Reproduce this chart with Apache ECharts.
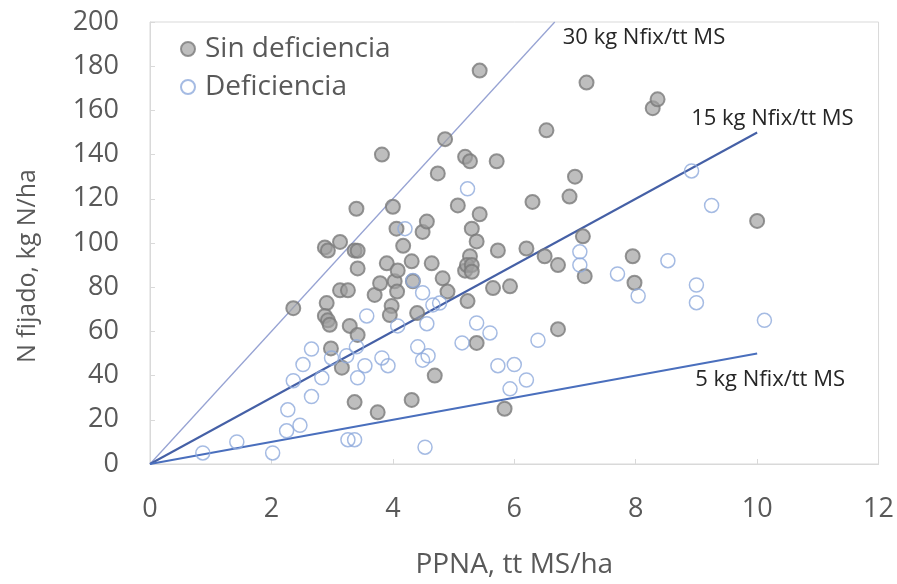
<!DOCTYPE html>
<html>
<head>
<meta charset="utf-8">
<script src="https://cdn.jsdelivr.net/npm/echarts@6/dist/echarts.min.js"></script>
<style>html,body{margin:0;padding:0;background:#fff}#c{width:897px;height:584px}</style>
</head>
<body>
<div id="c"></div>
<script>
// Sin deficiencia: [PPNA tt MS/ha, N fijado kg N/ha]
const sinDeficiencia = [
  [2.36,70.5],[2.88,98],[2.93,96.6],[3.13,100.5],[3.37,96.6],[3.42,96.5],[3.42,88.5],[3.40,115.5],
  [3.82,140],[4.0,116.4],[4.06,106.5],[4.17,98.7],[3.13,78.6],[3.26,78.6],[2.91,72.8],[2.88,67],
  [2.93,65],[2.96,63],[2.98,52.3],[3.16,43.6],[3.29,62.5],[3.42,58.4],[3.37,28],[3.75,23.4],
  [3.70,76.5],[3.79,81.8],[3.9,90.8],[3.98,71.5],[3.95,67.4],[4.03,82.7],[4.07,78],[4.08,87.6],
  [4.31,91.7],[4.33,82.7],[4.40,68.3],[4.31,29],[4.49,105],[4.56,109.7],[4.64,90.8],[4.74,131.5],
  [4.86,147],[4.82,84],[4.9,78],[4.69,40],[5.07,117],[5.19,139],[5.27,137],[5.3,106.5],
  [5.27,94],[5.19,87.5],[5.22,90],[5.3,90],[5.3,87],[5.38,100.7],[5.43,113],[5.38,54.8],
  [5.43,178],[5.23,73.7],[5.71,137],[5.73,96.6],[5.65,79.6],[5.93,80.4],[5.84,25],[6.2,97.5],
  [6.3,118.6],[6.53,151],[6.5,94],[6.72,90],[6.72,61],[6.91,121],[7.0,130],[7.13,103],
  [7.16,85],[7.19,172.6],[7.95,94],[7.98,82],[8.28,161],[8.36,165],[10.0,110]
];
// Deficiencia
const deficiencia = [
  [0.87,5],[1.43,10],[2.02,5],[2.25,15],[2.47,17.5],[2.27,24.5],[2.66,30.5],[2.36,37.7],
  [2.52,45],[2.66,52],[2.83,39],[2.99,48],[3.24,49],[3.4,53],[3.42,39],[3.54,44.5],
  [3.26,11],[3.37,11],[3.57,67],[3.82,48],[3.92,44.5],[4.08,62.5],[4.41,53],[4.49,47],
  [4.58,49],[4.53,7.6],[4.56,63.5],[4.49,77.5],[4.66,72],[4.77,72.8],[4.2,106.5],[4.33,83],
  [5.23,124.5],[5.14,54.8],[5.38,63.8],[5.6,59.3],[5.73,44.5],[6.0,45],[6.2,38],[5.93,34],
  [6.39,56],[7.08,96],[7.08,90],[7.7,86],[8.04,76],[8.53,92],[8.92,132.6],[9.25,117],
  [9.0,81],[9.0,73],[10.12,65]
];
// Reference lines (kg Nfix per tt MS)
const refRates = [30, 15, 5];
const refEndX = [200/30, 10, 10];
const refLabels = ['30 kg Nfix/tt MS', '15 kg Nfix/tt MS', '5 kg Nfix/tt MS'];
const xTicks = {min: 0, max: 12, interval: 2};
const yTicks = {min: 0, max: 200, interval: 20};
const seriesNames = ['Sin deficiencia', 'Deficiencia'];

const FONT = "'Open Sans', 'Noto Sans', sans-serif";
const refColors = ['#97a3d3', '#4560a6', '#4a6fbd'];
const refWidths = [1.3, 2, 2];
const refOffsets = [[8, 16], [-66, -14], [-62, 26]];

const refSeries = refRates.map((r, i) => ({
  type: 'line',
  name: refLabels[i],
  data: [[0, 0], [refEndX[i], r * refEndX[i]]],
  showSymbol: false,
  symbol: 'none',
  silent: true,
  z: 1,
  lineStyle: {color: refColors[i], width: refWidths[i]},
  endLabel: {
    show: true,
    formatter: refLabels[i],
    distance: 0,
    offset: refOffsets[i],
    color: '#262626',
    fontFamily: FONT,
    fontSize: 22
  }
}));

const chart = echarts.init(document.getElementById('c'), null, {renderer: 'canvas'});
chart.setOption({
  animation: false,
  backgroundColor: '#fff',
  grid: {left: 150, right: 18, top: 22, bottom: 117, show: true, borderColor: '#d9d9d9', borderWidth: 1},
  legend: {
    data: seriesNames,
    orient: 'vertical',
    left: 175, top: 30,
    itemWidth: 14, itemHeight: 14, itemGap: 10,
    textStyle: {color: '#595959', fontFamily: FONT, fontSize: 28, padding: [0, 0, 0, 5]}
  },
  xAxis: {
    type: 'value', min: xTicks.min, max: xTicks.max, interval: xTicks.interval,
    name: 'PPNA, tt MS/ha', nameLocation: 'middle', nameGap: 87,
    nameTextStyle: {color: '#595959', fontFamily: FONT, fontSize: 28},
    axisLine: {show: true, lineStyle: {color: '#d9d9d9'}},
    axisTick: {show: true, inside: true, length: 5, lineStyle: {color: '#d9d9d9'}},
    axisLabel: {color: '#595959', fontFamily: FONT, fontSize: 27, margin: 32},
    splitLine: {show: false}
  },
  yAxis: {
    type: 'value', min: yTicks.min, max: yTicks.max, interval: yTicks.interval,
    name: 'N fijado, kg N/ha', nameLocation: 'middle', nameGap: 110,
    nameTextStyle: {color: '#595959', fontFamily: FONT, fontSize: 25, padding: [0, 46, 0, 0]},
    axisLine: {show: true, lineStyle: {color: '#d9d9d9'}},
    axisTick: {show: true, inside: true, length: 5, lineStyle: {color: '#d9d9d9'}},
    axisLabel: {color: '#595959', fontFamily: FONT, fontSize: 27, margin: 31},
    splitLine: {show: false}
  },
  series: [
    ...refSeries,
    {
      type: 'scatter', name: seriesNames[0], data: sinDeficiencia, symbol: 'circle', symbolSize: 14, z: 3,
      itemStyle: {color: 'rgba(160,160,160,0.85)', borderColor: '#7b7b7b', borderWidth: 2}
    },
    {
      type: 'scatter', name: seriesNames[1], data: deficiencia, symbol: 'circle', symbolSize: 14, z: 4,
      itemStyle: {color: 'rgba(255,255,255,0)', borderColor: '#8faadc', borderWidth: 1.5}
    }
  ]
});
</script>
</body>
</html>
